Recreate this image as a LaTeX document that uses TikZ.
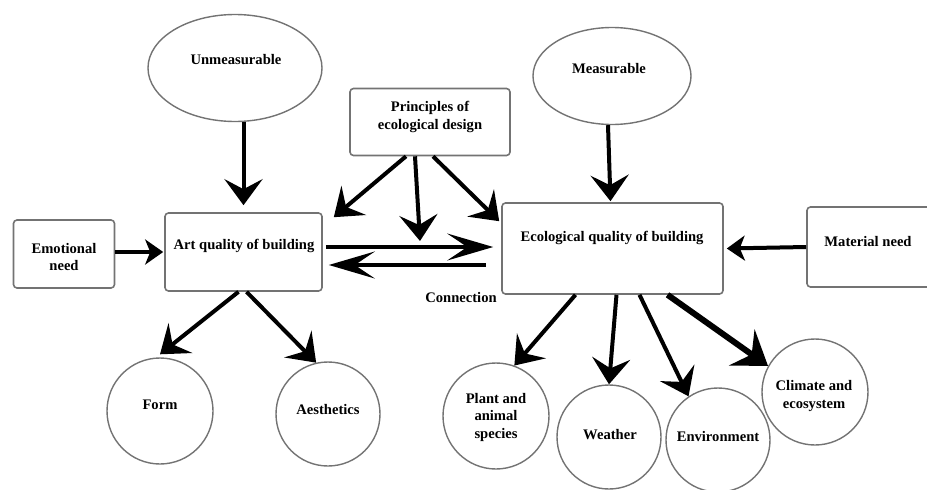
\documentclass[tikz,border=0pt]{standalone}
\usepackage{fontspec}
\setmainfont{Liberation Serif}
\usetikzlibrary{arrows.meta,calc,shapes.geometric}
\begin{document}
\begin{tikzpicture}[x=1pt,y=-1pt,
  every node/.style={font=\bfseries\fontsize{14.6}{17.5}\selectfont, inner sep=0pt},
  boxshape/.style={draw=black!55, line width=1.6pt, rounded corners=3.5pt, fill=white},
  ovalshape/.style={ellipse, draw=black!55, line width=1.4pt, fill=white},
  roundshape/.style={circle, draw=black!55, line width=1.4pt, fill=white},
  lbl/.style={align=center},
  bigarrow/.style={line width=4pt, -{Stealth[length=26pt,width=38pt,inset=10pt]}},
  longarrow/.style={line width=3.6pt, -{Stealth[length=46pt,width=27pt,inset=20pt]}},
  smallarrow/.style={line width=4pt, -{Stealth[length=18pt,width=25pt,inset=5pt]}},
  fatarrow/.style={line width=6pt, -{Stealth[length=32pt,width=44pt,inset=12pt]}},
]
\useasboundingbox (0,0) rectangle (927,490);
\clip (0,0) rectangle (927,490);

% shapes
\node[ovalshape, minimum width=174pt, minimum height=107pt] (unm) at (235,68) {};
\node[lbl] (unmt) at (236,60) {Unmeasurable};
\node[ovalshape, minimum width=158pt, minimum height=97pt] (mea) at (612,76) {};
\node[lbl] (meat) at (609,69) {Measurable};

\node[boxshape, minimum width=160pt, minimum height=67pt] (pri) at (430,122) {};
\node[lbl] (prit) at (430,117) {Principles of\\ecological design};

\node[boxshape, minimum width=157pt, minimum height=78pt] (art) at (243.5,252) {};
\node[lbl] (artt) at (244,246) {Art quality of building};

\node[boxshape, minimum width=101pt, minimum height=68pt] (emo) at (64,254) {};
\node[lbl] (emot) at (64,257) {Emotional\\need};

\node[boxshape, minimum width=221pt, minimum height=91pt] (eco) at (612.5,248.5) {};
\node[lbl] (ecot) at (612,238) {Ecological quality of building};

\node[boxshape, minimum width=128pt, minimum height=80pt] (mat) at (871,247) {};
\node[lbl] (matt) at (868,242) {Material need};

\node[lbl] (con) at (461,298) {Connection};

\node[roundshape, minimum size=106pt] (form) at (160,411) {};
\node[lbl] (formt) at (160,405) {Form};
\node[roundshape, minimum size=104pt] (aes) at (328,414) {};
\node[lbl] (aest) at (328,410) {Aesthetics};
\node[roundshape, minimum size=106pt] (pla) at (496,416) {};
\node[lbl] (plat) at (496,417) {Plant and\\animal\\species};
\node[roundshape, minimum size=104pt] (wea) at (609,437) {};
\node[lbl] (weat) at (610,435) {Weather};
\node[roundshape, minimum size=104pt] (env) at (718,440) {};
\node[lbl] (envt) at (718,437) {Environment};
\node[roundshape, minimum size=106pt] (cli) at (815,392) {};
\node[lbl] (clit) at (814,396) {Climate and\\ecosystem};

\coordinate (pd) at (420,241);

% connectors
\draw[bigarrow] (unm.south -| art.north) -- ([yshift=7pt]art.north);
\draw[bigarrow] ([xshift=-4pt]mea.south) -- ([xshift=-2pt,yshift=1pt]eco.north);
\draw[bigarrow] ([xshift=-24pt]pri.south) -- ([xshift=11pt,yshift=-5pt]art.north east);
\draw[bigarrow] ([xshift=-15pt]pri.south) -- (pd);
\draw[bigarrow] ([xshift=3pt]pri.south) -- ([xshift=-2pt,yshift=-19pt]eco.north west);
\draw[longarrow] ($(art.east)+(3,-5)$) -- ($(eco.west)+(-8,-1.5)$);
\draw[longarrow] ($(eco.west)+(-15,16.5)$) -- ($(art.east)+(6,13)$);
\draw[smallarrow] ($(emo.east)+(0,-2)$) -- ($(art.west)+(-1,0)$);
\draw[smallarrow] (mat.west) -- ([xshift=3pt]eco.east);
\draw[bigarrow] ([xshift=-5pt]art.south) -- ([yshift=3pt]form.north);
\draw[bigarrow] ([xshift=3pt]art.south) -- (aes.103);
\draw[bigarrow] ([xshift=-37pt]eco.south) -- (pla.70);
\draw[bigarrow] ([xshift=4pt]eco.south) -- (wea.north);
\draw[bigarrow] ([xshift=27pt]eco.south) -- (env.124);
\draw[fatarrow] ([xshift=55pt]eco.south) -- (cli.151);
\end{tikzpicture}
\end{document}
